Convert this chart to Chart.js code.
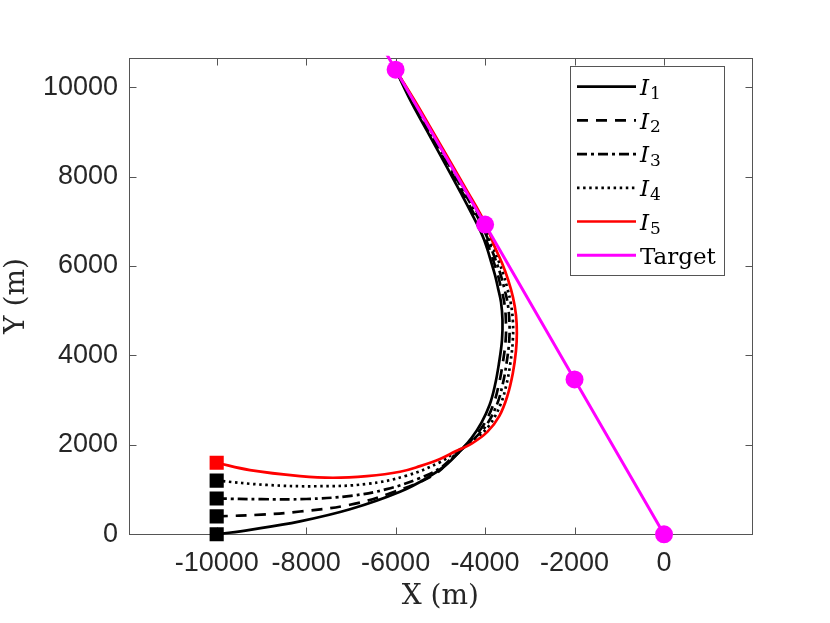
<!DOCTYPE html>
<html>
<head>
<meta charset="utf-8">
<script src="https://cdn.jsdelivr.net/npm/chart.js@4.4.0/dist/chart.umd.min.js"></script>
<style>
    html, body { margin: 0; padding: 0; background: #fff; }
    #wrap { width: 830px; height: 623px; }
</style>
</head>
<body>
<div id="wrap"><canvas id="myChart" width="830" height="623"></canvas></div>
<script>
const xTicks = [-10000, -8000, -6000, -4000, -2000, 0];
const yTicks = [0, 2000, 4000, 6000, 8000, 10000];
const seriesNames = ['I_1', 'I_2', 'I_3', 'I_4', 'I_5', 'Target'];

// pursuer trajectories (metres)
const i1X = [-10000, -9256, -8138, -7020, -5902, -5231, -4851, -4560, -4300, -4080, -3900, -3778, -3689, -3622, -3611, -3644, -3711, -3778, -3857, -3957, -4064, -4317, -4552, -4878, -5307, -5672, -6000];
const i1Y = [0, 100, 290, 560, 952, 1300, 1570, 1860, 2160, 2500, 2891, 3339, 3830, 4344, 4791, 5193, 5506, 5797, 6066, 6401, 6692, 7206, 7653, 8257, 9039, 9710, 10392];

const i2X = [-10000, -9000, -8138, -7020, -6059, -5160, -4740, -4450, -4250, -4035, -3820, -3695, -3605, -3540, -3535, -3572, -3642, -3713, -3798, -3910, -4020, -4270, -4510, -4842, -5277, -5648, -6000];
const i2Y = [400, 440, 510, 660, 940, 1320, 1690, 1960, 2170, 2444, 2891, 3339, 3830, 4344, 4791, 5193, 5506, 5797, 6066, 6401, 6692, 7206, 7653, 8257, 9039, 9710, 10392];

const i3X = [-10000, -9000, -8000, -7000, -6200, -5500, -5008, -4700, -4450, -4210, -3970, -3740, -3610, -3520, -3460, -3458, -3500, -3572, -3650, -3740, -3865, -3975, -4223, -4470, -4806, -5247, -5625, -6000];
const i3Y = [800, 785, 790, 860, 1010, 1240, 1480, 1750, 1960, 2170, 2444, 2891, 3339, 3830, 4344, 4791, 5193, 5506, 5797, 6066, 6401, 6692, 7206, 7653, 8257, 9039, 9710, 10392];

const i4X = [-10000, -8883, -7765, -6647, -5753, -5008, -4700, -4450, -4175, -3900, -3660, -3525, -3435, -3380, -3380, -3430, -3503, -3585, -3680, -3818, -3930, -4176, -4428, -4770, -5217, -5601, -6000];
const i4Y = [1200, 1104, 1075, 1126, 1312, 1611, 1810, 1975, 2170, 2444, 2891, 3339, 3830, 4344, 4791, 5193, 5506, 5797, 6066, 6401, 6692, 7206, 7653, 8257, 9039, 9710, 10392];

const i5X = [-10000, -9256, -8138, -7400, -6640, -5902, -5455, -5008, -4672, -4300, -3950, -3680, -3500, -3380, -3310, -3290, -3309, -3376, -3488, -3622, -3801, -3957, -4129, -4386, -4733, -5187, -5578, -6000];
const i5Y = [1600, 1437, 1303, 1265, 1303, 1400, 1525, 1685, 1850, 2030, 2290, 2650, 3100, 3600, 4100, 4500, 4900, 5300, 5700, 6066, 6468, 6870, 7206, 7653, 8257, 9039, 9710, 10392];

// target path, markers on the first four samples
const targetX = [0, -2000, -4000, -6000, -6250];
const targetY = [0, 3464, 6928, 10392, 10825];

function toPoints(xs, ys) {
    return xs.map(function (x, k) { return { x: x, y: ys[k] }; });
}

const clipBox = { left: 20, right: 20, top: 2, bottom: 20 };

function pursuer(label, xs, ys, color, dash, order) {
    return {
        label: label,
        data: toPoints(xs, ys),
        borderColor: color,
        backgroundColor: color,
        borderWidth: 2.7,
        borderDash: dash,
        borderCapStyle: 'butt',
        tension: 0.4,
        fill: false,
        pointStyle: 'rect',
        pointRadius: function (c) { return c.dataIndex === 0 ? 10 : 0; },
        pointHoverRadius: 0,
        pointHitRadius: 0,
        pointBorderWidth: 0,
        clip: clipBox,
        order: order
    };
}

const axesBox = {
    id: 'axesBox',
    beforeDatasetsDraw: function (chart) {
        const ctx = chart.ctx;
        const a = chart.chartArea;
        const xs = chart.scales.x;
        const ys = chart.scales.y;
        const L = Math.round(a.left) + 0.5, R = Math.round(a.right) + 0.5;
        const T = Math.round(a.top) + 0.5, B = Math.round(a.bottom) + 0.5;
        const tl = 7;
        ctx.save();
        ctx.strokeStyle = '#555';
        ctx.lineWidth = 1;
        ctx.strokeRect(L, T, R - L, B - T);
        ctx.beginPath();
        xs.ticks.forEach(function (t) {
            const px = Math.round(xs.getPixelForValue(t.value)) + 0.5;
            ctx.moveTo(px, B); ctx.lineTo(px, B - tl);
            ctx.moveTo(px, T); ctx.lineTo(px, T + tl);
        });
        ys.ticks.forEach(function (t) {
            const py = Math.round(ys.getPixelForValue(t.value)) + 0.5;
            ctx.moveTo(L, py); ctx.lineTo(L + tl, py);
            ctx.moveTo(R, py); ctx.lineTo(R - tl, py);
        });
        ctx.stroke();
        ctx.restore();
    }
};

const legendBox = {
    id: 'legendBox',
    afterDraw: function (chart) {
        const ctx = chart.ctx;
        const left = 570.5, top = 66.5, w = 154, h = 209, rowH = 33.7;
        ctx.save();
        ctx.fillStyle = '#fff';
        ctx.fillRect(left, top, w, h);
        ctx.strokeStyle = '#555';
        ctx.lineWidth = 1;
        ctx.strokeRect(left, top, w, h);
        chart.data.datasets.forEach(function (ds, k) {
            const ry = 86.7 + k * rowH;
            ctx.setLineDash(ds.borderDash || []);
            ctx.strokeStyle = ds.borderColor;
            ctx.lineWidth = ds.borderWidth;
            ctx.lineCap = 'butt';
            ctx.beginPath();
            ctx.moveTo(577, ry);
            ctx.lineTo(636, ry);
            ctx.stroke();
            ctx.setLineDash([]);
            ctx.fillStyle = '#000';
            ctx.textBaseline = 'alphabetic';
            ctx.textAlign = 'left';
            const parts = ds.label.split('_');
            if (parts.length === 2) {
                ctx.font = 'italic 23px "DejaVu Serif"';
                ctx.fillText(parts[0], 640, ry + 8.3);
                const wI = ctx.measureText(parts[0]).width;
                ctx.font = '17px "DejaVu Serif"';
                ctx.fillText(parts[1], 640 + wI + 1, ry + 12);
            } else {
                ctx.font = '23px "DejaVu Serif"';
                ctx.fillText(ds.label, 640, ry + 8.3);
            }
        });
        ctx.restore();
    }
};

const chartData = {
    datasets: [
        pursuer(seriesNames[0], i1X, i1Y, '#000000', [], 6),
        pursuer(seriesNames[1], i2X, i2Y, '#000000', [11, 8], 5),
        pursuer(seriesNames[2], i3X, i3Y, '#000000', [10, 4, 3, 4], 4),
        pursuer(seriesNames[3], i4X, i4Y, '#000000', [2.5, 3.6], 3),
        pursuer(seriesNames[4], i5X, i5Y, '#ff0000', [], 2),
        {
            label: seriesNames[5],
            data: toPoints(targetX, targetY),
            borderColor: '#ff00ff',
            backgroundColor: '#ff00ff',
            borderWidth: 3,
            borderDash: [],
            tension: 0,
            fill: false,
            pointStyle: 'circle',
            pointRadius: function (c) { return c.dataIndex < 4 ? 9 : 0; },
            pointHoverRadius: 0,
            pointHitRadius: 0,
            pointBorderWidth: 0,
            clip: clipBox,
            order: 1
        }
    ]
};

const tickFont = { family: 'Liberation Sans', size: 27 };
const titleFont = { family: 'DejaVu Serif', size: 28 };

const chartConfig = {
    type: 'line',
    data: chartData,
    options: {
        responsive: false,
        animation: false,
        events: [],
        layout: { padding: { left: 0, right: 78.3, top: 57.7, bottom: 0 } },
        scales: {
            x: {
                type: 'linear',
                position: 'bottom',
                min: -11960,
                max: 1960,
                afterBuildTicks: function (s) { s.ticks = xTicks.map(function (v) { return { value: v }; }); },
                afterFit: function (s) { s.height = 88.7; },
                grid: { display: false, drawTicks: false },
                border: { display: false },
                ticks: {
                    font: tickFont,
                    color: '#262626',
                    padding: 13,
                    maxRotation: 0,
                    autoSkip: false,
                    callback: function (v) { return String(v); }
                },
                title: { display: true, text: 'X (m)', font: titleFont, color: '#262626', padding: { top: 0, bottom: 9 } }
            },
            y: {
                type: 'linear',
                position: 'left',
                min: 0,
                max: 10660,
                afterBuildTicks: function (s) { s.ticks = yTicks.map(function (v) { return { value: v }; }); },
                afterFit: function (s) { s.width = 129; },
                grid: { display: false, drawTicks: false },
                border: { display: false },
                ticks: {
                    font: tickFont,
                    color: '#262626',
                    padding: 11,
                    autoSkip: false,
                    callback: function (v) { return String(v); }
                },
                title: { display: true, text: 'Y (m)', font: titleFont, color: '#262626', padding: { top: 0, bottom: 0 } }
            }
        },
        plugins: {
            legend: { display: false },
            tooltip: { enabled: false }
        }
    },
    plugins: [axesBox, legendBox]
};

const ctx = document.getElementById('myChart').getContext('2d');
const myChart = new Chart(ctx, chartConfig);
</script>
</body>
</html>
